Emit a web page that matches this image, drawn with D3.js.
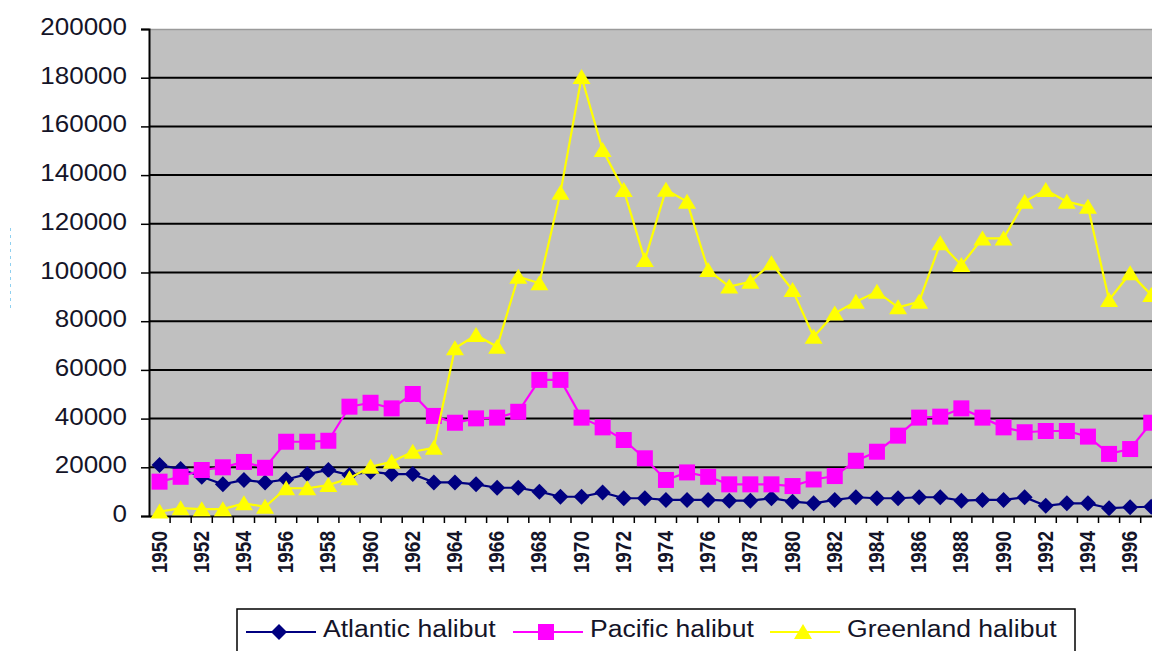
<!DOCTYPE html>
<html>
<head>
<meta charset="utf-8">
<script src="https://cdn.jsdelivr.net/npm/d3@7"></script>
<style>
  html, body { margin: 0; padding: 0; background: #ffffff; }
  svg { display: block; font-family: "Liberation Sans", Arial, sans-serif; }
</style>
</head>
<body>
<svg id="chart" width="1152" height="651"></svg>
<script>
const years = [
  1950, 1951, 1952, 1953, 1954, 1955, 1956, 1957, 1958, 1959,
  1960, 1961, 1962, 1963, 1964, 1965, 1966, 1967, 1968, 1969,
  1970, 1971, 1972, 1973, 1974, 1975, 1976, 1977, 1978, 1979,
  1980, 1981, 1982, 1983, 1984, 1985, 1986, 1987, 1988, 1989,
  1990, 1991, 1992, 1993, 1994, 1995, 1996, 1997,
];

const atlantic = [
  20900, 19300, 16100, 13000, 14800, 13800, 15000, 17200, 18900, 16800,
  18200, 17200, 17200, 13800, 13800, 13000, 11600, 11600, 10000, 7900,
  7900, 9700, 7300, 7300, 6600, 6600, 6600, 6300, 6300, 7300,
  5900, 5200, 6600, 7700, 7300, 7300, 7700, 7700, 6300, 6600,
  6600, 7700, 4200, 5200, 5200, 3200, 3600, 3800,
];

const pacific = [
  14100, 16100, 18900, 20000, 22200, 19800, 30500, 30500, 30900, 44900,
  46500, 44200, 50100, 41100, 38300, 40100, 40400, 42800, 55900, 55900,
  40400, 36400, 31200, 23700, 14800, 17900, 16100, 13000, 13000, 13000,
  12300, 15000, 16400, 22700, 26400, 33000, 40400, 40800, 44200, 40400,
  36400, 34400, 34900, 34900, 32600, 25500, 27500, 38300,
];

const greenland = [
  1800, 3200, 2800, 2800, 5200, 3800, 11400, 11400, 12700, 15500,
  20200, 22300, 26400, 28000, 68900, 74300, 69500, 98300, 95600, 132800,
  180300, 150300, 133900, 105100, 134000, 129100, 101000, 94200, 96200, 103800,
  92800, 73600, 83200, 88000, 92100, 85700, 88000, 112000, 103100, 114000,
  114000, 129100, 133900, 129100, 127000, 88700, 99700, 90800,
];

const yTicks = [0, 20000, 40000, 60000, 80000, 100000, 120000, 140000, 160000, 180000, 200000];
const xLabelYears = years.filter((y) => y % 2 === 0);

const seriesNames = ["Atlantic halibut", "Pacific halibut", "Greenland halibut"];
const seriesColors = ["#000080", "#ff00ff", "#ffff00"];
const seriesMarkers = ["diamond", "square", "triangle"];
const seriesValues = [atlantic, pacific, greenland];

// the original picture is a bit wider than tall, text gets the same stretch
const stretch = 1.13;

const svg = d3.select("#chart");

const plotLeft = 149;
const plotTop = 29;
const plotBottom = 516;
const step = 21.1;

const x = d3
  .scaleBand()
  .domain(years)
  .range([plotLeft, plotLeft + years.length * step])
  .paddingInner(0)
  .paddingOuter(0);

const y = d3.scaleLinear().domain([0, 200000]).range([plotBottom, plotTop]);

const cx = (year) => x(year) + x.bandwidth() / 2;

const markerPath = (kind) => {
  switch (kind) {
    case "diamond":
      return "M0,-8L8,0L0,8L-8,0Z";
    case "square":
      return "M-8,-8L8,-8L8,8L-8,8Z";
    default:
      return "M0,-8L9,7L-9,7Z";
  }
};

// plot area
svg
  .append("rect")
  .attr("x", plotLeft)
  .attr("y", plotTop)
  .attr("width", x.range()[1] - plotLeft)
  .attr("height", plotBottom - plotTop)
  .attr("fill", "#c0c0c0");

svg
  .append("line")
  .attr("x1", plotLeft)
  .attr("x2", x.range()[1])
  .attr("y1", plotTop + 0.5)
  .attr("y2", plotTop + 0.5)
  .attr("stroke", "#9a9a9a")
  .attr("stroke-width", 1.5);

// gridlines
svg
  .append("g")
  .selectAll("line")
  .data(yTicks.filter((t) => t > 0 && t < 200000))
  .join("line")
  .attr("x1", plotLeft)
  .attr("x2", x.range()[1])
  .attr("y1", (d) => y(d))
  .attr("y2", (d) => y(d))
  .attr("stroke", "#000")
  .attr("stroke-width", 2);

// y axis
const yAxis = svg
  .append("g")
  .attr("transform", `translate(${plotLeft},0)`)
  .call(d3.axisLeft(y).tickValues(yTicks).tickSize(8).tickFormat(""));
yAxis.select(".domain").attr("stroke", "#000").attr("stroke-width", 2);
yAxis.selectAll(".tick line").attr("stroke", "#000").attr("stroke-width", 1.5);

svg
  .append("g")
  .selectAll("text")
  .data(yTicks)
  .join("text")
  .attr("transform", (d) => `translate(127,${y(d) + 6}) scale(${stretch},1)`)
  .attr("text-anchor", "end")
  .style("font-size", "23px")
  .style("fill", "#141428")
  .text((d) => d);

// x axis
const xAxis = svg
  .append("g")
  .attr("transform", `translate(0,${plotBottom})`)
  .call(d3.axisBottom(x).tickSize(0).tickFormat(""));
xAxis.select(".domain").attr("stroke", "#000").attr("stroke-width", 2);

svg
  .append("g")
  .selectAll("line")
  .data(years)
  .join("line")
  .attr("x1", (d) => x(d) + x.bandwidth())
  .attr("x2", (d) => x(d) + x.bandwidth())
  .attr("y1", plotBottom)
  .attr("y2", plotBottom + 7)
  .attr("stroke", "#000")
  .attr("stroke-width", 1.5);

svg
  .append("g")
  .selectAll("text")
  .data(xLabelYears)
  .join("text")
  .attr("transform", (d) => `translate(${cx(d) + 7},531) rotate(-90) scale(1,${stretch})`)
  .attr("text-anchor", "end")
  .style("font-size", "19px")
  .style("font-weight", "bold")
  .style("fill", "#141428")
  .text((d) => d);

// series
const line = (values) =>
  d3
    .line()
    .x((d, i) => cx(years[i]))
    .y((d) => y(d))(values);

seriesValues.forEach((values, k) => {
  const g = svg.append("g").attr("class", "series");
  g.append("path")
    .attr("d", line(values))
    .attr("fill", "none")
    .attr("stroke", seriesColors[k])
    .attr("stroke-width", 2.2);
  g.selectAll("path.marker")
    .data(values)
    .join("path")
    .attr("class", "marker")
    .attr("transform", (d, i) => `translate(${cx(years[i])},${y(d)})`)
    .attr("d", markerPath(seriesMarkers[k]))
    .attr("fill", seriesColors[k]);
});

// legend
const legend = svg.append("g");
legend
  .append("rect")
  .attr("x", 237)
  .attr("y", 609)
  .attr("width", 838)
  .attr("height", 60)
  .attr("fill", "#fff")
  .attr("stroke", "#000")
  .attr("stroke-width", 1.5);

const legendX = [246, 513, 770];
const legendTextX = [323, 590, 847];
seriesNames.forEach((name, k) => {
  legend
    .append("line")
    .attr("x1", legendX[k])
    .attr("x2", legendX[k] + 70)
    .attr("y1", 632)
    .attr("y2", 632)
    .attr("stroke", seriesColors[k])
    .attr("stroke-width", 2);
  legend
    .append("path")
    .attr("transform", `translate(${legendX[k] + 33},632)`)
    .attr("d", markerPath(seriesMarkers[k]))
    .attr("fill", seriesColors[k]);
  legend
    .append("text")
    .attr("transform", `translate(${legendTextX[k]},637) scale(${stretch},1)`)
    .style("font-size", "23.5px")
    .style("fill", "#141428")
    .text(name);
});

// stray selection mark left of the axis
svg
  .append("line")
  .attr("x1", 10.5)
  .attr("x2", 10.5)
  .attr("y1", 228)
  .attr("y2", 312)
  .attr("stroke", "#8fd0f0")
  .attr("stroke-width", 1)
  .attr("stroke-dasharray", "3,4");
</script>
</body>
</html>
